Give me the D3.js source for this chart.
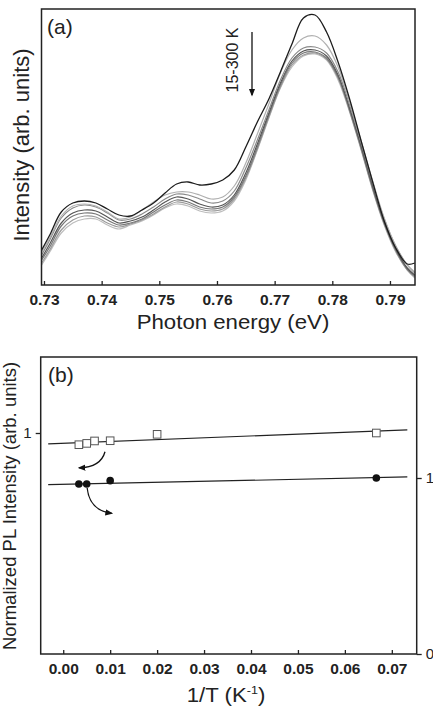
<!DOCTYPE html>
<html>
<head>
<meta charset="utf-8">
<script src="https://cdn.jsdelivr.net/npm/d3@7"></script>
<style>
    body { margin: 0; background: #fff; }
    svg { display: block; font-family: 'Liberation Sans', Arial, sans-serif; }
</style>
</head>
<body>
<svg id="canvas" width="433" height="706"></svg>
<script>
// panel (a) energies (eV)
var energies = [0.7296, 0.731, 0.733, 0.735, 0.737, 0.739, 0.741, 0.743, 0.745, 0.747, 0.749,
    0.751, 0.753, 0.755, 0.757, 0.759, 0.761, 0.763, 0.765, 0.767, 0.769, 0.771, 0.773,
    0.775, 0.777, 0.779, 0.781, 0.783, 0.785, 0.787, 0.789, 0.791, 0.793, 0.7943];

// panel (a) spectra, arb. units
var spec15 = [0.35, 0.50, 0.73, 0.82, 0.84, 0.82, 0.76, 0.70, 0.69, 0.75, 0.82, 0.92, 1.01, 1.03, 1.00, 1.01, 1.05,
    1.15, 1.38, 1.63, 1.86, 2.13, 2.41, 2.67, 2.70, 2.53, 2.23, 1.86, 1.44, 1.03, 0.64, 0.37, 0.21, 0.22];
var spec50 = [0.33, 0.47, 0.69, 0.79, 0.81, 0.79, 0.73, 0.66, 0.68, 0.75, 0.83, 0.90, 0.93, 0.93, 0.90, 0.86, 0.88,
    0.99, 1.22, 1.51, 1.81, 2.12, 2.35, 2.47, 2.49, 2.40, 2.18, 1.83, 1.44, 1.04, 0.67, 0.39, 0.20, 0.13];
var spec100 = [0.30, 0.45, 0.67, 0.77, 0.80, 0.78, 0.72, 0.65, 0.66, 0.71, 0.78, 0.86, 0.91, 0.90, 0.86, 0.82, 0.84,
    0.94, 1.17, 1.45, 1.75, 2.05, 2.27, 2.37, 2.38, 2.32, 2.13, 1.80, 1.42, 1.02, 0.66, 0.39, 0.20, 0.12];
var spec150 = [0.27, 0.41, 0.62, 0.72, 0.75, 0.74, 0.68, 0.62, 0.64, 0.68, 0.75, 0.83, 0.88, 0.86, 0.81, 0.78, 0.80,
    0.90, 1.12, 1.41, 1.72, 2.02, 2.24, 2.34, 2.35, 2.29, 2.10, 1.77, 1.39, 0.99, 0.63, 0.36, 0.17, 0.10];
var spec200 = [0.25, 0.38, 0.59, 0.69, 0.72, 0.71, 0.65, 0.60, 0.62, 0.66, 0.73, 0.80, 0.85, 0.83, 0.78, 0.76, 0.78,
    0.88, 1.09, 1.38, 1.70, 2.00, 2.22, 2.32, 2.33, 2.27, 2.08, 1.75, 1.37, 0.97, 0.62, 0.35, 0.16, 0.09];
var spec250 = [0.22, 0.35, 0.55, 0.65, 0.69, 0.68, 0.62, 0.58, 0.61, 0.65, 0.71, 0.78, 0.83, 0.81, 0.76, 0.74, 0.76,
    0.86, 1.07, 1.36, 1.68, 1.98, 2.20, 2.30, 2.32, 2.26, 2.07, 1.74, 1.36, 0.96, 0.61, 0.34, 0.15, 0.08];
var spec300 = [0.20, 0.33, 0.52, 0.62, 0.66, 0.66, 0.60, 0.56, 0.60, 0.64, 0.70, 0.77, 0.81, 0.79, 0.74, 0.72, 0.74,
    0.84, 1.05, 1.35, 1.67, 1.97, 2.18, 2.29, 2.31, 2.25, 2.05, 1.73, 1.35, 0.95, 0.60, 0.33, 0.15, 0.07];
var specColors = ['#bdbdbd', '#9a9a9a', '#777', '#555', '#8a8a8a', '#b0b0b0', '#1c1c1c'];
var energyTicks = [0.73, 0.74, 0.75, 0.76, 0.77, 0.78, 0.79];

// panel (b) data
var squareX = [0.00333, 0.005, 0.00667, 0.01, 0.02, 0.0667];
var squareY = [0.947, 0.953, 0.964, 0.965, 0.994, 1.0];
var circleX = [0.00333, 0.005, 0.01, 0.0667];
var circleY = [0.966, 0.966, 0.985, 1.0];
var fitSquareX = [-0.0032, 0.0733];
var fitSquareY = [0.951, 1.014];
var fitCircleX = [-0.0032, 0.0733];
var fitCircleY = [0.962, 1.006];
var invTTicks = [0.00, 0.01, 0.02, 0.03, 0.04, 0.05, 0.06, 0.07];

// get canvas
var svg = d3.select('#canvas');

// arrow head marker
svg.append('defs').append('marker')
    .attr('id', 'head')
    .attr('viewBox', '0 0 10 10')
    .attr('refX', 8).attr('refY', 5)
    .attr('markerWidth', 6).attr('markerHeight', 6)
    .attr('orient', 'auto')
    .append('path')
    .attr('d', 'M0,1 L10,5 L0,9 Z')
    .attr('fill', '#111');

// style tick labels
function style_ticks(g, size, bold) {
    g.select('.domain').remove();
    g.selectAll('line').attr('stroke', '#222').attr('stroke-width', 1.3);
    g.selectAll('text').attr('font-size', size).attr('font-weight', bold ? 'bold' : 'normal')
        .attr('fill', '#222').attr('font-family', "'Liberation Sans', Arial, sans-serif");
}

// ---------- panel (a) ----------
var ax = d3.scaleLinear().domain([0.72957, 0.79434]).range([41.5, 415]);
var ay = d3.scaleLinear().domain([0, 2.76]).range([285, 9]);

var spectra = [spec300, spec250, spec200, spec150, spec100, spec50, spec15];
var line = d3.line()
    .x(function(d, i) { return ax(energies[i]); })
    .y(function(d) { return ay(d); })
    .curve(d3.curveCatmullRom);

var pa = svg.append('g');
spectra.forEach(function(s, k) {
    pa.append('path')
        .attr('d', line(s))
        .attr('fill', 'none')
        .attr('stroke', specColors[k])
        .attr('stroke-width', k == 6 ? 1.3 : 1.2);
});

// bottom axis, ticks inward
var axisA = d3.axisBottom(ax).tickValues(energyTicks).tickSize(-4).tickPadding(9)
    .tickFormat(d3.format('.2f'));
var ga = pa.append('g').attr('transform', 'translate(0,285)').call(axisA);
style_ticks(ga, 15.5, true);

// frame
pa.append('rect').attr('x', 41.5).attr('y', 9).attr('width', 415 - 41.5).attr('height', 285 - 9)
    .attr('fill', 'none').attr('stroke', '#222').attr('stroke-width', 1.5);

// labels
pa.append('text').attr('x', 47).attr('y', 34).attr('font-size', 21).attr('fill', '#222').text('(a)');
pa.append('text').attr('transform', 'translate(233,329) scale(1.14,1)').attr('text-anchor', 'middle')
    .attr('font-size', 19.5).attr('fill', '#222').text('Photon energy (eV)');
pa.append('text').attr('transform', 'translate(29,145) rotate(-90)').attr('text-anchor', 'middle')
    .attr('font-size', 22).attr('fill', '#222').text('Intensity (arb. units)');
pa.append('text').attr('transform', 'translate(238,60) rotate(-90)').attr('text-anchor', 'middle')
    .attr('font-size', 16).attr('fill', '#222').text('15-300 K');
pa.append('line').attr('x1', 252).attr('y1', 32).attr('x2', 252).attr('y2', 95)
    .attr('stroke', '#111').attr('stroke-width', 1.3).attr('marker-end', 'url(#head)');

// ---------- panel (b) ----------
var bx = d3.scaleLinear().domain([-0.0048, 0.0753]).range([40.7, 416.7]);
var byLeft = d3.scaleLinear().domain([0, 1]).range([654, 433]);
var byRight = d3.scaleLinear().domain([0, 1]).range([654, 478]);

var pb = svg.append('g');

// fit lines
pb.append('line')
    .attr('x1', bx(fitSquareX[0])).attr('y1', byLeft(fitSquareY[0]))
    .attr('x2', bx(fitSquareX[1])).attr('y2', byLeft(fitSquareY[1]))
    .attr('stroke', '#222').attr('stroke-width', 1.2);
pb.append('line')
    .attr('x1', bx(fitCircleX[0])).attr('y1', byRight(fitCircleY[0]))
    .attr('x2', bx(fitCircleX[1])).attr('y2', byRight(fitCircleY[1]))
    .attr('stroke', '#222').attr('stroke-width', 1.2);

// open squares
pb.selectAll('rect.sq').data(squareX).enter().append('rect')
    .attr('class', 'sq')
    .attr('x', function(d) { return bx(d) - 3.8; })
    .attr('y', function(d, i) { return byLeft(squareY[i]) - 3.8; })
    .attr('width', 7.6).attr('height', 7.6)
    .attr('fill', '#fff').attr('stroke', '#555').attr('stroke-width', 1);

// filled circles
pb.selectAll('circle').data(circleX).enter().append('circle')
    .attr('cx', function(d) { return bx(d); })
    .attr('cy', function(d, i) { return byRight(circleY[i]); })
    .attr('r', 3.8).attr('fill', '#111');

// curved arrows pointing to axes
pb.append('path')
    .attr('d', 'M' + bx(0.0089) + ',' + byLeft(0.915) +
        ' Q' + bx(0.0080) + ',' + byLeft(0.845) + ' ' + bx(0.0034) + ',' + byLeft(0.842))
    .attr('fill', 'none').attr('stroke', '#111').attr('stroke-width', 1.3).attr('marker-end', 'url(#head)');
pb.append('path')
    .attr('d', 'M' + bx(0.0051) + ',' + byRight(0.943) +
        ' Q' + bx(0.0056) + ',' + byRight(0.815) + ' ' + bx(0.0103) + ',' + byRight(0.800))
    .attr('fill', 'none').attr('stroke', '#111').attr('stroke-width', 1.3).attr('marker-end', 'url(#head)');

// bottom axis, ticks inward
var axisB = d3.axisBottom(bx).tickValues(invTTicks).tickSize(-4).tickPadding(9)
    .tickFormat(d3.format('.2f'));
var gb = pb.append('g').attr('transform', 'translate(0,654)').call(axisB);
style_ticks(gb, 15.5, true);

// left axis
var axisL = d3.axisLeft(byLeft).tickValues([1]).tickSize(5).tickPadding(4).tickFormat(d3.format('d'));
var gl = pb.append('g').attr('transform', 'translate(40.7,0)').call(axisL);
style_ticks(gl, 15, false);

// right axis
var axisR = d3.axisRight(byRight).tickValues([0, 1]).tickSize(5).tickPadding(4).tickFormat(d3.format('d'));
var gr = pb.append('g').attr('transform', 'translate(416.7,0)').call(axisR);
style_ticks(gr, 15, false);

// frame
pb.append('rect').attr('x', 40.7).attr('y', 357).attr('width', 416.7 - 40.7).attr('height', 654 - 357)
    .attr('fill', 'none').attr('stroke', '#222').attr('stroke-width', 1.5);

// labels
pb.append('text').attr('x', 48).attr('y', 382).attr('font-size', 21).attr('fill', '#222').text('(b)');
var xt = pb.append('text').attr('transform', 'translate(226,702) scale(1.14,1)').attr('text-anchor', 'middle')
    .attr('font-size', 19.5).attr('fill', '#222').text('1/T (K');
xt.append('tspan').attr('font-size', 11).attr('dy', -8).text('-1');
xt.append('tspan').attr('dy', 8).text(')');
pb.append('text').attr('transform', 'translate(16,506) rotate(-90)').attr('text-anchor', 'middle')
    .attr('font-size', 18.5).attr('fill', '#222').text('Normalized PL Intensity (arb. units)');
</script>
</body>
</html>
